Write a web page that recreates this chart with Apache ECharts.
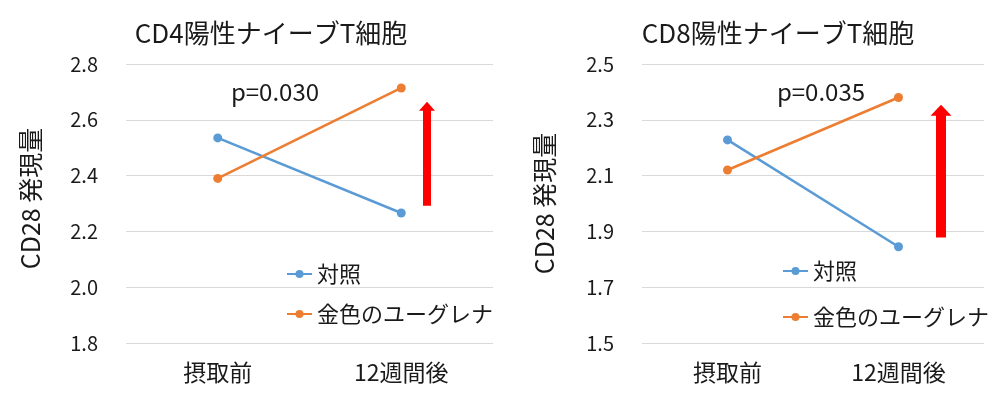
<!DOCTYPE html>
<html><head><meta charset="utf-8">
<script src="https://cdn.jsdelivr.net/npm/echarts@6/dist/echarts.min.js"></script>
<style>html,body{margin:0;padding:0;background:#fff}#c{width:1000px;height:393px}</style>
</head><body><div id="c"></div>
<script>
const categories = ['摂取前', '12週間後'];
const seriesNames = ['対照', '金色のユーグレナ'];
// CD4 panel
const cd4Control = [2.535, 2.266];
const cd4Euglena = [2.39, 2.714];
const cd4Ticks = { min: 1.8, max: 2.8, interval: 0.2 };
const cd4P = 'p=0.030';
const cd4Arrow = [2.292, 2.665];
// CD8 panel
const cd8Control = [2.228, 1.845];
const cd8Euglena = [2.12, 2.38];
const cd8Ticks = { min: 1.5, max: 2.5, interval: 0.2 };
const cd8P = 'p=0.035';
const cd8Arrow = [1.878, 2.354];

const FONT = '"Noto Sans CJK JP", "Noto Sans", sans-serif';
const TXT = '#1a1a1a';
const BLUE = '#5B9BD5', ORANGE = '#ED7D31';

const chart = echarts.init(document.getElementById('c'), null, { renderer: 'canvas' });

function yAxis(idx, t, gap, pad) {
  return {
    type: 'value', gridIndex: idx, min: t.min, max: t.max, interval: t.interval,
    axisLabel: { fontSize: 20, color: TXT, fontFamily: FONT, margin: 28, formatter: v => v.toFixed(1) },
    axisLine: { show: false }, axisTick: { show: false },
    splitLine: { lineStyle: { color: '#D9D9D9', width: 1 } },
    name: 'CD28 発現量', nameLocation: 'middle', nameGap: gap, nameRotate: 90,
    nameTextStyle: { fontSize: 25, color: TXT, fontFamily: FONT, padding: pad }
  };
}
function xAxis(idx) {
  return {
    type: 'category', gridIndex: idx, data: categories, boundaryGap: true,
    axisLine: { show: false }, axisTick: { show: false },
    axisLabel: { fontSize: 23, color: TXT, fontFamily: FONT, margin: 18 }
  };
}
function line(name, data, color, idx) {
  return {
    type: 'line', name, data, xAxisIndex: idx, yAxisIndex: idx,
    symbol: 'circle', symbolSize: 9, color,
    lineStyle: { width: 2.5, color }, itemStyle: { color }, animation: false
  };
}

chart.setOption({
  animation: false,
  textStyle: { fontFamily: FONT },
  title: [
    { text: 'CD4陽性ナイーブT細胞', left: 266, top: 15, textAlign: 'center',
      textStyle: { fontSize: 26, fontWeight: 'normal', color: TXT, fontFamily: FONT } },
    { text: 'CD8陽性ナイーブT細胞', left: 773, top: 15, textAlign: 'center',
      textStyle: { fontSize: 26, fontWeight: 'normal', color: TXT, fontFamily: FONT } },
    { text: cd4P, left: 270, top: 75, textAlign: 'center',
      textStyle: { fontSize: 24, fontWeight: 'normal', color: TXT, fontFamily: FONT } },
    { text: cd8P, left: 816, top: 75, textAlign: 'center',
      textStyle: { fontSize: 24, fontWeight: 'normal', color: TXT, fontFamily: FONT } }
  ],
  grid: [
    { left: 126, top: 64, width: 367, height: 279 },
    { left: 642, top: 64, width: 342, height: 279 }
  ],
  legend: [
    { orient: 'vertical', left: 281, top: 258, itemGap: 18, itemWidth: 25, itemHeight: 10,
      data: seriesNames, textStyle: { fontSize: 22, color: TXT, fontFamily: FONT } },
    { orient: 'vertical', left: 777, top: 255, itemGap: 24, itemWidth: 25, itemHeight: 10,
      data: seriesNames, textStyle: { fontSize: 22, color: TXT, fontFamily: FONT } }
  ],
  xAxis: [xAxis(0), xAxis(1)],
  yAxis: [yAxis(0, cd4Ticks, 83, [0, 0, 0, 10]), yAxis(1, cd8Ticks, 85, [0, 0, 0, 0])],
  series: [
    line(seriesNames[0], cd4Control, BLUE, 0),
    line(seriesNames[1], cd4Euglena, ORANGE, 0),
    line(seriesNames[0], cd8Control, BLUE, 1),
    line(seriesNames[1], cd8Euglena, ORANGE, 1)
  ]
});

function arrow(gridIdx, vals, xFrac, shaftW, headW, headH) {
  const g = chart.getModel().getComponent('grid', gridIdx).coordinateSystem.getRect();
  const x = g.x + g.width * xFrac;
  const yb = chart.convertToPixel({ yAxisIndex: gridIdx }, vals[0]);
  const yt = chart.convertToPixel({ yAxisIndex: gridIdx }, vals[1]);
  return {
    type: 'polygon', silent: true,
    shape: { points: [
      [x - shaftW / 2, yb], [x - shaftW / 2, yt + headH], [x - headW / 2, yt + headH],
      [x, yt], [x + headW / 2, yt + headH], [x + shaftW / 2, yt + headH], [x + shaftW / 2, yb]
    ] },
    style: { fill: '#FF0000' }
  };
}
chart.setOption({ graphic: [
  arrow(0, cd4Arrow, (427 - 126) / 367, 8, 16, 9),
  arrow(1, cd8Arrow, (941 - 642) / 342, 10, 21, 11)
] });
</script></body></html>
